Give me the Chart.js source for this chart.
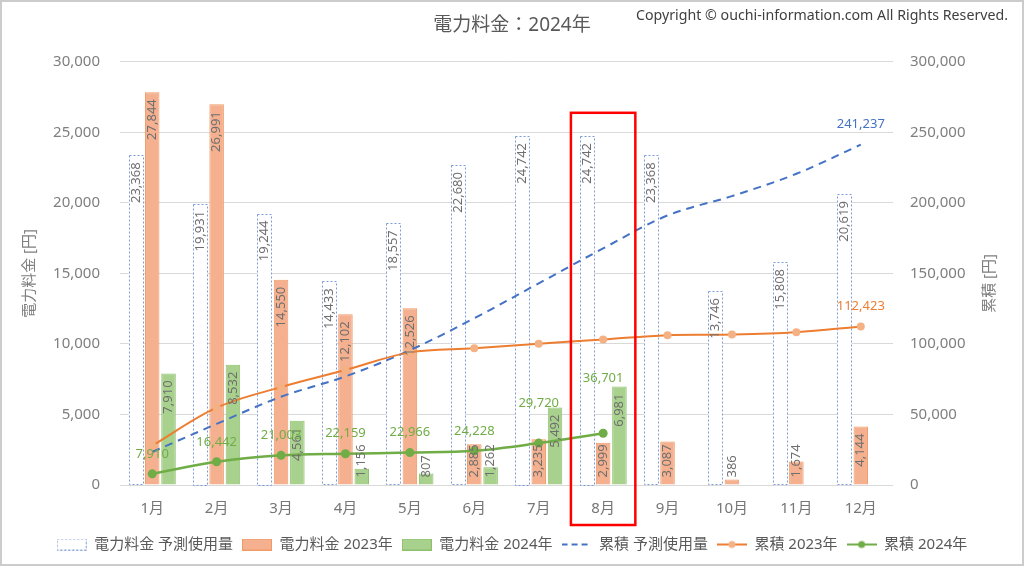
<!DOCTYPE html>
<html>
<head>
<meta charset="utf-8">
<script src="https://cdn.jsdelivr.net/npm/chart.js@4.4.0/dist/chart.umd.min.js"></script>
<style>
  html, body { margin: 0; padding: 0; background: #fff; }
  #wrap { width: 1024px; height: 566px; }
</style>
</head>
<body>
<div id="wrap"><canvas id="myChart" width="1024" height="566"></canvas></div>
<script>
// データ
const months = ['1月', '2月', '3月', '4月', '5月', '6月', '7月', '8月', '9月', '10月', '11月', '12月'];
const billForecast = [23368, 19931, 19244, 14433, 18557, 22680, 24742, 24742, 23368, 13746, 15808, 20619];
const bill2023 = [27844, 26991, 14550, 12102, 12526, 2885, 3235, 2999, 3087, 386, 1674, 4144];
const bill2024 = [7910, 8532, 4561, 1156, 807, 1262, 5492, 6981];
const cumForecast = [23368, 43299, 62543, 76976, 95533, 118213, 142955, 167697, 191065, 204811, 220619, 241237];
const cum2023 = [27844, 54835, 69385, 81487, 94013, 96898, 100133, 103132, 106219, 106605, 108279, 112423];
const cum2024 = [7910, 16442, 21003, 22159, 22966, 24228, 29720, 36701];
const billTicks = [0, 5000, 10000, 15000, 20000, 25000, 30000];
const cumTicks = [0, 50000, 100000, 150000, 200000, 250000, 300000];
const highlightMonth = '8月';

// 2024年累積ラベルの点からの高さ（重なり回避）
const cum2024LabelLift = [20, 20, 20, 20, 20, 20, 40, 55];

const FONT = "'Noto Sans', 'Noto Sans CJK JP', sans-serif";
const fmt = v => v.toLocaleString('en-US');

Chart.defaults.font.family = FONT;

// 凡例アイコン
function makeIcon(draw) {
  const c = document.createElement('canvas');
  c.width = 30; c.height = 12;
  draw(c.getContext('2d'));
  return c;
}
const legendIcons = [
  makeIcon(g => { g.fillStyle = '#fff'; g.fillRect(0, 0, 30, 12); g.strokeStyle = '#7A9BD6'; g.setLineDash([2, 2]); g.strokeRect(0.5, 0.5, 29, 11); }),
  makeIcon(g => { g.fillStyle = '#F4B08F'; g.fillRect(0, 0, 30, 12); g.strokeStyle = '#F09A65'; g.strokeRect(0.5, 0.5, 29, 11); }),
  makeIcon(g => { g.fillStyle = '#A9D18E'; g.fillRect(0, 0, 30, 12); g.strokeStyle = '#8CC06A'; g.strokeRect(0.5, 0.5, 29, 11); }),
  makeIcon(g => { g.strokeStyle = '#4472C4'; g.lineWidth = 2; g.setLineDash([6, 4]); g.beginPath(); g.moveTo(0, 6); g.lineTo(30, 6); g.stroke(); }),
  makeIcon(g => { g.strokeStyle = '#ED7D31'; g.lineWidth = 2; g.beginPath(); g.moveTo(0, 6); g.lineTo(30, 6); g.stroke(); g.fillStyle = '#F4B183'; g.beginPath(); g.arc(15, 6, 3.5, 0, Math.PI * 2); g.fill(); }),
  makeIcon(g => { g.strokeStyle = '#70AD47'; g.lineWidth = 2; g.beginPath(); g.moveTo(0, 6); g.lineTo(30, 6); g.stroke(); g.fillStyle = '#70AD47'; g.beginPath(); g.arc(15, 6, 3.5, 0, Math.PI * 2); g.fill(); })
];

// 点線枠の棒・データラベル・赤枠・コピーライト
const extrasPlugin = {
  id: 'extras',
  beforeDraw(chart) {
    const ctx = chart.ctx;
    ctx.save();
    ctx.fillStyle = '#fff';
    ctx.fillRect(0, 0, chart.width, chart.height);
    ctx.restore();
  },
  afterDatasetDraw(chart, args) {
    const ds = chart.data.datasets[args.index];
    if (!ds.dashedBorder) return;
    const ctx = chart.ctx;
    ctx.save();
    ctx.strokeStyle = ds.dashedBorder;
    ctx.lineWidth = 1;
    ctx.setLineDash([2, 2]);
    args.meta.data.forEach(bar => {
      const { x, y, base, width } = bar.getProps(['x', 'y', 'base', 'width'], true);
      ctx.strokeRect(Math.round(x - width / 2) + 0.5, Math.round(y) + 0.5, Math.round(width) - 1, Math.round(base - y));
    });
    ctx.restore();
  },
  afterDatasetsDraw(chart) {
    const ctx = chart.ctx;
    ctx.save();
    ctx.font = '13px ' + FONT;
    ctx.textBaseline = 'middle';
    chart.data.datasets.forEach((ds, i) => {
      const meta = chart.getDatasetMeta(i);
      if (ds.type === 'bar') {
        ctx.fillStyle = '#6f6f6f';
        ctx.textAlign = 'right';
        meta.data.forEach((bar, j) => {
          const v = ds.data[j];
          if (v == null) return;
          const { x, y, base } = bar.getProps(['x', 'y', 'base'], true);
          const txt = fmt(v);
          const w = ctx.measureText(txt).width;
          const end = Math.min(y + 7, base - 7 - w);
          ctx.save();
          ctx.translate(x, end);
          ctx.rotate(-Math.PI / 2);
          ctx.fillText(txt, 0, 0);
          ctx.restore();
        });
      } else if (ds.labelMode) {
        ctx.fillStyle = ds.labelColor;
        ctx.textAlign = 'center';
        meta.data.forEach((pt, j) => {
          if (ds.labelMode === 'last' && j !== ds.data.length - 1) return;
          const lift = ds.labelLift ? ds.labelLift[j] : 20;
          ctx.fillText(fmt(ds.data[j]), pt.x, pt.y - lift);
        });
      }
    });
    ctx.restore();
  },
  afterDraw(chart) {
    const ctx = chart.ctx;
    const area = chart.chartArea;
    const xs = chart.scales.x;
    ctx.save();
    // 8月の赤枠
    const idx = months.indexOf(highlightMonth);
    const cx = xs.getPixelForValue(idx);
    const half = (xs.getPixelForValue(1) - xs.getPixelForValue(0)) / 2;
    ctx.strokeStyle = '#ff0000';
    ctx.lineWidth = 2.5;
    ctx.strokeRect(cx - half, area.top + 51, half * 2, area.bottom - area.top - 51 + 40);
    // 右軸タイトル
    ctx.fillStyle = '#7f7f7f';
    ctx.font = '15px ' + FONT;
    ctx.textAlign = 'center';
    ctx.textBaseline = 'middle';
    ctx.translate(990, (area.top + area.bottom) / 2 + 10);
    ctx.rotate(-Math.PI / 2);
    ctx.fillText('累積 [円]', 0, 0);
    ctx.restore();
    // コピーライト
    ctx.save();
    const copy = 'Copyright © ouchi-information.com All Rights Reserved.';
    ctx.font = '14px ' + FONT;
    ctx.fillStyle = '#404040';
    ctx.textBaseline = 'middle';
    const cw = ctx.measureText(copy).width;
    ctx.translate(636, 16);
    ctx.scale(372 / cw, 1);
    ctx.fillText(copy, 0, 0);
    ctx.restore();
    // 外枠
    ctx.save();
    ctx.strokeStyle = '#cccccc';
    ctx.lineWidth = 2;
    ctx.strokeRect(1, 1, chart.width - 2, chart.height - 2);
    ctx.restore();
  }
};

const ctx = document.getElementById('myChart').getContext('2d');
const myChart = new Chart(ctx, {
  data: {
    labels: months,
    datasets: [
      { type: 'bar', label: '電力料金 予測使用量', data: billForecast, yAxisID: 'y', backgroundColor: '#ffffff', borderWidth: 0, dashedBorder: '#7A9BD6', order: 4 },
      { type: 'bar', label: '電力料金 2023年', data: bill2023, yAxisID: 'y', backgroundColor: '#F4B08F', borderColor: '#F09A65', borderWidth: 1, order: 4 },
      { type: 'bar', label: '電力料金 2024年', data: bill2024, yAxisID: 'y', backgroundColor: '#A9D18E', borderColor: '#8CC06A', borderWidth: 1, order: 4 },
      { type: 'line', label: '累積 予測使用量', data: cumForecast, yAxisID: 'y1', borderColor: '#4472C4', borderWidth: 2, borderDash: [8, 6], pointRadius: 0, tension: 0.35, order: 3, labelMode: 'last', labelColor: '#4472C4' },
      { type: 'line', label: '累積 2023年', data: cum2023, yAxisID: 'y1', borderColor: '#ED7D31', borderWidth: 2, pointRadius: 4, pointBorderWidth: 0, pointBackgroundColor: '#F4B183', tension: 0.35, order: 2, labelMode: 'last', labelColor: '#ED7D31' },
      { type: 'line', label: '累積 2024年', data: cum2024, yAxisID: 'y1', borderColor: '#70AD47', borderWidth: 2.5, pointRadius: 4.5, pointBorderWidth: 0, pointBackgroundColor: '#70AD47', tension: 0.35, order: 1, labelMode: 'all', labelColor: '#70AD47', labelLift: cum2024LabelLift }
    ]
  },
  options: {
    responsive: false,
    animation: false,
    devicePixelRatio: 1,
    layout: { padding: { left: 0, right: 0, top: 0, bottom: 4 } },
    datasets: { bar: { categoryPercentage: 0.76, barPercentage: 0.89 } },
    scales: {
      x: {
        grid: { display: false },
        border: { display: false },
        ticks: { color: '#767676', font: { size: 15 }, padding: 7 },
        afterFit: s => { s.height = 43; }
      },
      y: {
        position: 'left',
        min: billTicks[0],
        max: billTicks[billTicks.length - 1],
        ticks: { stepSize: billTicks[1] - billTicks[0], color: '#7f7f7f', font: { size: 15 }, padding: 20, callback: v => fmt(v) },
        grid: { color: '#d9d9d9', drawTicks: false },
        border: { display: false },
        title: { display: true, text: '電力料金 [円]', color: '#7f7f7f', font: { size: 15 }, padding: { top: 21 } },
        afterFit: s => { s.width = 120; }
      },
      y1: {
        position: 'right',
        min: cumTicks[0],
        max: cumTicks[cumTicks.length - 1],
        ticks: { stepSize: cumTicks[1] - cumTicks[0], color: '#7f7f7f', font: { size: 15 }, padding: 17, callback: v => fmt(v) },
        grid: { display: false, drawTicks: false },
        border: { display: false },
        afterFit: s => { s.width = 131; }
      }
    },
    plugins: {
      tooltip: { enabled: false },
      title: {
        display: true,
        text: '電力料金：2024年',
        color: '#595959',
        font: { size: 19, weight: 'normal' },
        padding: { top: 14, bottom: 25 }
      },
      legend: {
        position: 'bottom',
        labels: {
          usePointStyle: true,
          pointStyleWidth: 30,
          boxHeight: 12,
          padding: 9,
          color: '#595959',
          font: { size: 15 },
          generateLabels: chart => Chart.defaults.plugins.legend.labels.generateLabels(chart)
            .sort((a, b) => a.datasetIndex - b.datasetIndex)
            .map(item => {
              item.pointStyle = legendIcons[item.datasetIndex];
              return item;
            })
        }
      }
    }
  },
  plugins: [extrasPlugin]
});
</script>
</body>
</html>
